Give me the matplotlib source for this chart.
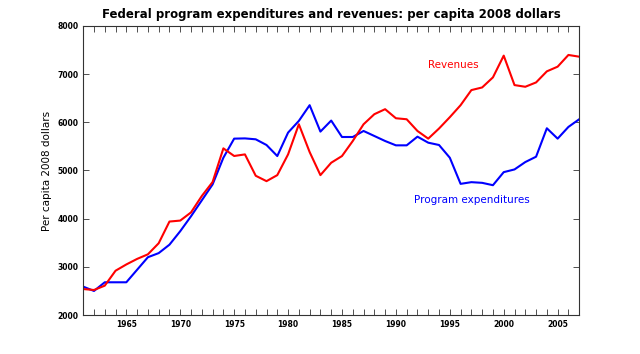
import matplotlib
matplotlib.use("Agg")
import matplotlib.pyplot as plt
from matplotlib.ticker import MultipleLocator

years = list(range(1961, 2008))

# per capita, 2008 dollars
expenditures = [
    2590, 2500, 2680, 2680, 2680, 2940, 3200, 3285, 3460, 3740,
    4050, 4380, 4710, 5264, 5660, 5665, 5646, 5528, 5299, 5785,
    6028, 6354, 5806, 6035, 5694, 5694, 5819, 5715, 5611, 5521,
    5521, 5701, 5576, 5528, 5264, 4722, 4757, 4743, 4694, 4965,
    5021, 5174, 5285, 5875, 5660, 5903, 6062,
]
revenues = [
    2540, 2520, 2610, 2920, 3050, 3165, 3260, 3490, 3940, 3960,
    4130, 4470, 4760, 5458, 5300, 5333, 4890, 4778, 4903, 5333,
    5958, 5382, 4903, 5160, 5299, 5611, 5958, 6167, 6271, 6083,
    6062, 5819, 5660, 5870, 6105, 6354, 6667, 6722, 6931, 7382,
    6771, 6736, 6826, 7056, 7153, 7396, 7360,
]

fig = plt.figure(figsize=(6.4, 3.54), dpi=100)
ax = fig.add_axes([0.130, 0.110, 0.775, 0.817])

ax.plot(years, expenditures, color="#0000ff", lw=1.5)
ax.plot(years, revenues, color="#ff0000", lw=1.5)

ax.text(1993.0, 7187, "Revenues", color="#ff0000", fontsize=7.5, va="center")
ax.text(1991.7, 4396, "Program expenditures", color="#0000ff", fontsize=7.5, va="center")

ax.set_xlim(1961, 2007)
ax.set_ylim(2000, 8000)
ax.xaxis.set_major_locator(MultipleLocator(5))
ax.xaxis.set_minor_locator(MultipleLocator(1))
ax.yaxis.set_major_locator(MultipleLocator(1000))
ax.tick_params(which="both", direction="in", top=True, right=True,
               labelsize=5.5, width=0.6, color="#333333", length=4)
for lab in ax.get_xticklabels() + ax.get_yticklabels():
    lab.set_fontweight("bold")
for s in ax.spines.values():
    s.set_linewidth(0.8)
    s.set_color("#333333")

ax.set_ylabel("Per capita 2008 dollars", fontsize=7.5)
ax.set_title("Federal program expenditures and revenues: per capita 2008 dollars",
             fontsize=8.5, fontweight="bold", pad=6)

fig.savefig("out.png", dpi=100)
